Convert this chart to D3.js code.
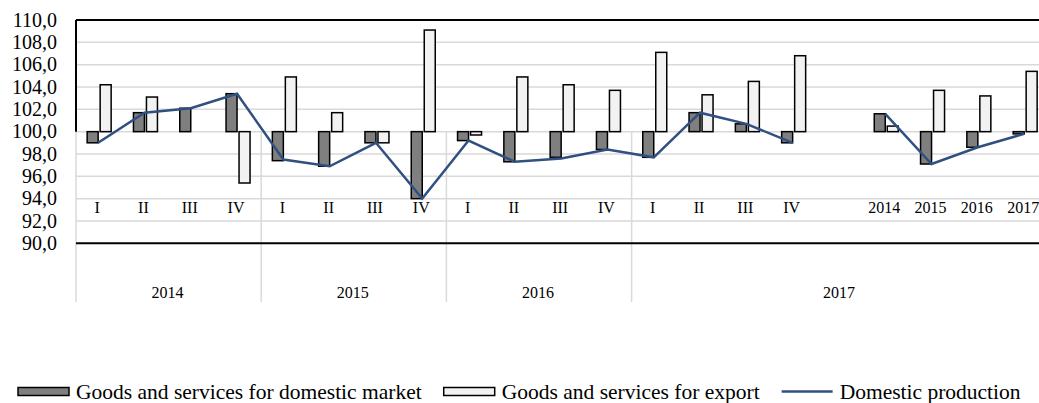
<!DOCTYPE html>
<html>
<head>
<meta charset="utf-8">
<script src="https://cdn.jsdelivr.net/npm/d3@7"></script>
<style>
  body { margin: 0; background: #fff; }
</style>
</head>
<body>
<script>
// categories on the x axis (index 16 is the empty gap before the annual bars)
var categories = ["I","II","III","IV","I","II","III","IV","I","II","III","IV","I","II","III","IV","","2014","2015","2016","2017"];
var groups = ["2014","2015","2016","2017"];
var groupSpans = [4, 4, 4, 9];

var domestic = [99.0,101.7,102.1,103.4, 97.4,96.9,99.0,94.0, 99.2,97.3,97.7,98.4, 97.7,101.7,100.7,99.0, null, 101.6,97.1,98.6,99.8];
var exportVals = [104.2,103.1,100.0,95.4, 104.9,101.7,99.0,109.1, 99.7,104.9,104.2,103.7, 107.1,103.3,104.5,106.8, null, 100.5,103.7,103.2,105.4];
var production = [99.0,101.7,102.1,103.4, 97.5,96.9,99.0,94.0, 99.2,97.3,97.6,98.4, 97.7,101.7,100.7,99.0, null, 101.6,97.1,98.6,99.8];

var yTicks = [90,92,94,96,98,100,102,104,106,108,110];
var legendNames = ["Goods and services for domestic market", "Goods and services for export", "Domestic production"];

var serif = "'Liberation Serif', 'Times New Roman', 'DejaVu Serif', serif";
var W = 1039, H = 403;
var left = 76, catW = 46.3;
var svg = d3.select("body").append("svg")
    .attr("width", W)
    .attr("height", H)
    .attr("font-family", serif)
    .style("font-family", serif);

svg.append("rect").attr("width", W).attr("height", H).attr("fill", "#fff");

var x = d3.scaleBand()
    .domain(d3.range(categories.length))
    .range([left, left + catW * categories.length])
    .padding(0);

var y = d3.scaleLinear()
    .domain([90, 110])
    .range([243.3, 20]);

// gridlines
svg.append("g").selectAll("line")
    .data(yTicks.filter(function(d){ return d > 90 && d < 110; }))
    .enter().append("line")
    .attr("x1", left).attr("x2", W)
    .attr("y1", function(d){ return y(d); })
    .attr("y2", function(d){ return y(d); })
    .attr("stroke", "#d9d9d9")
    .attr("stroke-width", 1.5);

// group separators below 100
var bounds = [0];
groupSpans.forEach(function(s, i){ bounds.push(bounds[i] + s); });
svg.append("g").selectAll("line")
    .data(bounds.slice(0, 4))
    .enter().append("line")
    .attr("x1", function(d){ return left + d * catW; })
    .attr("x2", function(d){ return left + d * catW; })
    .attr("y1", y(100))
    .attr("y2", 302)
    .attr("stroke", "#d9d9d9")
    .attr("stroke-width", 1.5);

// left axis line above 100
svg.append("line")
    .attr("x1", left).attr("x2", left)
    .attr("y1", y(110)).attr("y2", y(100))
    .attr("stroke", "#000").attr("stroke-width", 2);

// top and bottom lines
svg.append("line")
    .attr("x1", left).attr("x2", W)
    .attr("y1", y(110)).attr("y2", y(110))
    .attr("stroke", "#000").attr("stroke-width", 2);
svg.append("line")
    .attr("x1", left).attr("x2", W)
    .attr("y1", y(90)).attr("y2", y(90))
    .attr("stroke", "#000").attr("stroke-width", 2);

// y labels
svg.append("g").selectAll("text")
    .data(yTicks)
    .enter().append("text")
    .attr("x", 57)
    .attr("y", function(d){ return y(d) + 6.7; })
    .attr("text-anchor", "end")
    .attr("font-size", "20px")
    .text(function(d){ return d.toFixed(1).replace(".", ","); });

// bars
var bw = 11;
function barY(v){ return v >= 100 ? y(v) : y(100); }
function barH(v){ return Math.abs(y(v) - y(100)); }

svg.append("g").selectAll("rect")
    .data(domestic.map(function(v, i){ return {v: v, i: i}; }).filter(function(d){ return d.v != null; }))
    .enter().append("rect")
    .attr("x", function(d){ return x(d.i) + x.bandwidth() / 2 - 12; })
    .attr("y", function(d){ return barY(d.v); })
    .attr("width", bw)
    .attr("height", function(d){ return barH(d.v); })
    .attr("fill", "#7f7f7f")
    .attr("stroke", "#000")
    .attr("stroke-width", 1.5);

svg.append("g").selectAll("rect")
    .data(exportVals.map(function(v, i){ return {v: v, i: i}; }).filter(function(d){ return d.v != null && d.v != 100; }))
    .enter().append("rect")
    .attr("x", function(d){ return x(d.i) + x.bandwidth() / 2 + 1; })
    .attr("y", function(d){ return barY(d.v); })
    .attr("width", bw)
    .attr("height", function(d){ return barH(d.v); })
    .attr("fill", "#f2f2f2")
    .attr("stroke", "#000")
    .attr("stroke-width", 1.5);

// production line
var line = d3.line()
    .defined(function(d){ return d != null; })
    .x(function(d, i){ return x(i) + x.bandwidth() / 2 - 1; })
    .y(function(d){ return y(d); });

svg.append("path")
    .datum(production)
    .attr("d", line)
    .attr("fill", "none")
    .attr("stroke", "#2f5080")
    .attr("stroke-width", 2.5);

// category labels
svg.append("g").selectAll("text")
    .data(categories)
    .enter().append("text")
    .attr("x", function(d, i){ return x(i) + x.bandwidth() / 2 - 2; })
    .attr("y", 212.5)
    .attr("text-anchor", "middle")
    .attr("font-size", "16px")
    .text(function(d){ return d; });

// group labels
svg.append("g").selectAll("text")
    .data(groups)
    .enter().append("text")
    .attr("x", function(d, i){ return left + (bounds[i] + groupSpans[i] / 2) * catW - 1; })
    .attr("y", 297.5)
    .attr("text-anchor", "middle")
    .attr("font-size", "16px")
    .text(function(d){ return d; });

// legend
var lg = svg.append("g");
var lx = 18;
legendNames.forEach(function(name, i){
    if (i < 2) {
        lg.append("rect")
            .attr("x", lx).attr("y", 387.5)
            .attr("width", 51).attr("height", 8)
            .attr("fill", i == 0 ? "#7f7f7f" : "#f2f2f2")
            .attr("stroke", "#000").attr("stroke-width", 1.5);
    } else {
        lg.append("line")
            .attr("x1", lx).attr("x2", lx + 51)
            .attr("y1", 391.5).attr("y2", 391.5)
            .attr("stroke", "#2f5080").attr("stroke-width", 2.5);
    }
    var t = lg.append("text")
        .attr("x", lx + 58)
        .attr("y", 399)
        .attr("font-size", "21.5px")
        .text(name);
    lx = lx + 58 + t.node().getComputedTextLength() + 22;
});
</script>
</body>
</html>
